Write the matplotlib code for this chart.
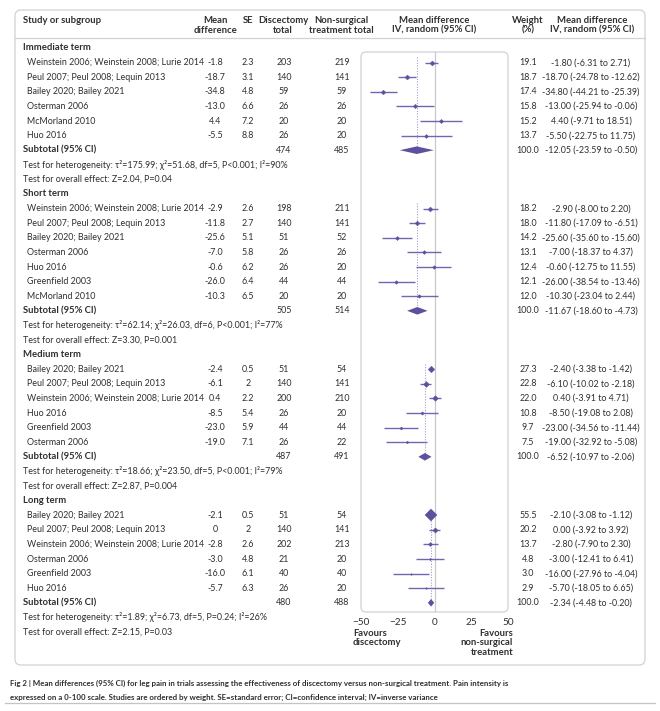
import numpy as np
import matplotlib.pyplot as plt
from matplotlib.patches import FancyBboxPatch

plt.rcParams['font.family'] = ['Lato', 'DejaVu Sans']

group_names = ['Immediate term', 'Short term', 'Medium term', 'Long term']

study = ['Weinstein 2006; Weinstein 2008; Lurie 2014', 'Peul 2007; Peul 2008; Lequin 2013',
         'Bailey 2020; Bailey 2021', 'Osterman 2006', 'McMorland 2010', 'Huo 2016',
         'Weinstein 2006; Weinstein 2008; Lurie 2014', 'Peul 2007; Peul 2008; Lequin 2013',
         'Bailey 2020; Bailey 2021', 'Osterman 2006', 'Huo 2016', 'Greenfield 2003', 'McMorland 2010',
         'Bailey 2020; Bailey 2021', 'Peul 2007; Peul 2008; Lequin 2013',
         'Weinstein 2006; Weinstein 2008; Lurie 2014', 'Huo 2016', 'Greenfield 2003', 'Osterman 2006',
         'Bailey 2020; Bailey 2021', 'Peul 2007; Peul 2008; Lequin 2013',
         'Weinstein 2006; Weinstein 2008; Lurie 2014', 'Osterman 2006', 'Greenfield 2003', 'Huo 2016']
study_group = [0] * 6 + [1] * 7 + [2] * 6 + [3] * 6
md = ['-1.8', '-18.7', '-34.8', '-13.0', '4.4', '-5.5',
      '-2.9', '-11.8', '-25.6', '-7.0', '-0.6', '-26.0', '-10.3',
      '-2.4', '-6.1', '0.4', '-8.5', '-23.0', '-19.0',
      '-2.1', '0', '-2.8', '-3.0', '-16.0', '-5.7']
se = ['2.3', '3.1', '4.8', '6.6', '7.2', '8.8',
      '2.6', '2.7', '5.1', '5.8', '6.2', '6.4', '6.5',
      '0.5', '2', '2.2', '5.4', '5.9', '7.1',
      '0.5', '2', '2.6', '4.8', '6.1', '6.3']
n_disc = [203, 140, 59, 26, 20, 26,
          198, 140, 51, 26, 26, 44, 20,
          51, 140, 200, 26, 44, 26,
          51, 140, 202, 21, 40, 26]
n_ns = [219, 141, 59, 26, 20, 20,
        211, 141, 52, 26, 20, 44, 20,
        54, 141, 210, 20, 44, 22,
        54, 141, 213, 20, 40, 20]
weight = [19.1, 18.7, 17.4, 15.8, 15.2, 13.7,
          18.2, 18.0, 14.2, 13.1, 12.4, 12.1, 12.0,
          27.3, 22.8, 22.0, 10.8, 9.7, 7.5,
          55.5, 20.2, 13.7, 4.8, 3.0, 2.9]
ci_lo = [-6.31, -24.78, -44.21, -25.94, -9.71, -22.75,
         -8.00, -17.09, -35.60, -18.37, -12.75, -38.54, -23.04,
         -3.38, -10.02, -3.91, -19.08, -34.56, -32.92,
         -3.08, -3.92, -7.90, -12.41, -27.96, -18.05]
ci_hi = [2.71, -12.62, -25.39, -0.06, 18.51, 11.75,
         2.20, -6.51, -15.60, 4.37, 11.55, -13.46, 2.44,
         -1.42, -2.18, 4.71, 2.08, -11.44, -5.08,
         -1.12, 3.92, 2.30, 6.41, -4.04, 6.65]

sub_n_disc = [474, 505, 487, 480]
sub_n_ns = [485, 514, 491, 488]
sub_md = [-12.05, -11.67, -6.52, -2.34]
sub_lo = [-23.59, -18.60, -10.97, -4.48]
sub_hi = [-0.50, -4.73, -2.06, -0.20]
het_text = ['τ²=175.99; χ²=51.68, df=5, P<0.001; I²=90%',
            'τ²=62.14; χ²=26.03, df=6, P<0.001; I²=77%',
            'τ²=18.66; χ²=23.50, df=5, P<0.001; I²=79%',
            'τ²=1.89; χ²=6.73, df=5, P=0.24; I²=26%']
overall_text = ['Z=2.04, P=0.04', 'Z=3.30, P=0.001', 'Z=2.87, P=0.004', 'Z=2.15, P=0.03']

xticks = [-50, -25, 0, 25, 50]

txt = '#2f2f2f'
purple = '#5d519e'
line_c = '#7068ae'
fs = 6.4
fsb = 6.8


def ry(r):
    return 48 + 14.6 * r


fig = plt.figure(figsize=(6.6, 7.11), dpi=100)
bg = fig.add_axes([0, 0, 1, 1])
bg.set_xlim(0, 660)
bg.set_ylim(711, 0)
bg.axis('off')

bg.add_patch(FancyBboxPatch((15, 10), 630, 655, boxstyle='round,pad=0,rounding_size=6',
                            ec='#d2d2d2', fc='none', lw=0.9))
bg.plot([15, 645], [38, 38], color='#d2d2d2', lw=0.9)
bg.add_patch(FancyBboxPatch((361, 52), 147, 560, boxstyle='round,pad=0,rounding_size=5',
                            ec='#d2d2d2', fc='none', lw=0.9))

# header
hdr = dict(fontsize=fsb, fontweight='bold', color=txt, va='top', linespacing=1.1)
bg.text(23, 16, 'Study or subgroup', ha='left', **hdr)
bg.text(215, 16, 'Mean\ndifference', ha='center', **hdr)
bg.text(248, 16, 'SE', ha='center', **hdr)
bg.text(283, 16, 'Discectomy\ntotal', ha='center', **hdr)
bg.text(341, 16, 'Non-surgical\ntreatment total', ha='center', **hdr)
bg.text(434, 16, 'Mean difference\nIV, random (95% CI)', ha='center', **hdr)
bg.text(528, 16, 'Weight\n(%)', ha='center', **hdr)
bg.text(592, 16, 'Mean difference\nIV, random (95% CI)', ha='center', **hdr)

ax = fig.add_axes([361 / 660, 1 - 612 / 711, 147 / 660, 560 / 711])
ax.set_xlim(-50, 50)
ax.set_ylim((612 - 48) / 14.6, (52 - 48) / 14.6)
ax.patch.set_alpha(0)
for s in ax.spines.values():
    s.set_visible(False)
ax.set_yticks([])
ax.set_xticks(xticks)
ax.tick_params(axis='x', length=0, pad=4, labelsize=7.2, labelcolor=txt)
ax.axvline(0, color='#c9c9c9', lw=0.9, zorder=1)

norm = dict(fontsize=fs, color=txt, va='center')
row = 0
for g, name in enumerate(group_names):
    bg.text(23, ry(row), name, ha='left', fontweight='bold', fontsize=fsb, color=txt, va='center')
    idx = [i for i, sg in enumerate(study_group) if sg == g]
    first = row + 1
    for i in idx:
        row += 1
        y = ry(row)
        bg.text(27, y, study[i], ha='left', **norm)
        bg.text(215, y, md[i], ha='center', **norm)
        bg.text(248, y, se[i], ha='center', **norm)
        bg.text(284, y, str(n_disc[i]), ha='center', **norm)
        bg.text(342, y, str(n_ns[i]), ha='center', **norm)
        bg.text(528, y, f'{weight[i]:.1f}', ha='center', **norm)
        est = float(md[i])
        bg.text(591, y, f'{est:.2f} ({ci_lo[i]:.2f} to {ci_hi[i]:.2f})', ha='center', **norm)
        ax.hlines(row, ci_lo[i], ci_hi[i], color=line_c, lw=1.0, zorder=3)
        w_px = 0.2 * weight[i] + 1.2
        ax.plot(est, row, marker='D', ms=0.51 * w_px, color=purple, mec=purple, mew=0.3, zorder=4)
    row += 1
    y = ry(row)
    bg.text(23, y, 'Subtotal (95% CI)', ha='left', fontweight='bold', fontsize=fsb, color=txt,
            va='center')
    bg.text(284, y, str(sub_n_disc[g]), ha='center', **norm)
    bg.text(342, y, str(sub_n_ns[g]), ha='center', **norm)
    bg.text(528, y, '100.0', ha='center', **norm)
    bg.text(591, y, f'{sub_md[g]:.2f} ({sub_lo[g]:.2f} to {sub_hi[g]:.2f})', ha='center', **norm)
    ax.fill([sub_lo[g], sub_md[g], sub_hi[g], sub_md[g]], [row, row - 0.26, row, row + 0.26],
            color=purple, lw=0, zorder=4)
    ax.vlines(sub_md[g], first - 0.35, row, colors='#a39dcc', lw=0.8,
              linestyles=(0, (1, 1.4)), zorder=2)
    row += 1
    bg.text(23, ry(row), 'Test for heterogeneity: ' + het_text[g], ha='left', **norm)
    row += 1
    bg.text(23, ry(row), 'Test for overall effect: ' + overall_text[g], ha='left', **norm)
    row += 1

fav = dict(fontsize=fsb, fontweight='bold', color=txt, va='top', linespacing=1.05)
bg.text(353, 629, 'Favours\ndiscectomy', ha='left', **fav)
bg.text(513, 629, 'Favours\nnon-surgical\ntreatment', ha='right', multialignment='right', **fav)

cap = dict(fontsize=5.7, fontweight='bold', color=txt, va='center')
bg.text(10, 683, 'Fig 2 | Mean differences (95% CI) for leg pain in trials assessing the effectiveness '
        'of discectomy versus non-surgical treatment. Pain intensity is', ha='left', **cap)
bg.text(10, 697, 'expressed on a 0-100 scale. Studies are ordered by weight. SE=standard error; '
        'CI=confidence interval; IV=inverse variance', ha='left', **cap)
bg.plot([5, 655], [703, 703], color='#c4c4c4', lw=0.9)

fig.savefig('out.png', dpi=100)
